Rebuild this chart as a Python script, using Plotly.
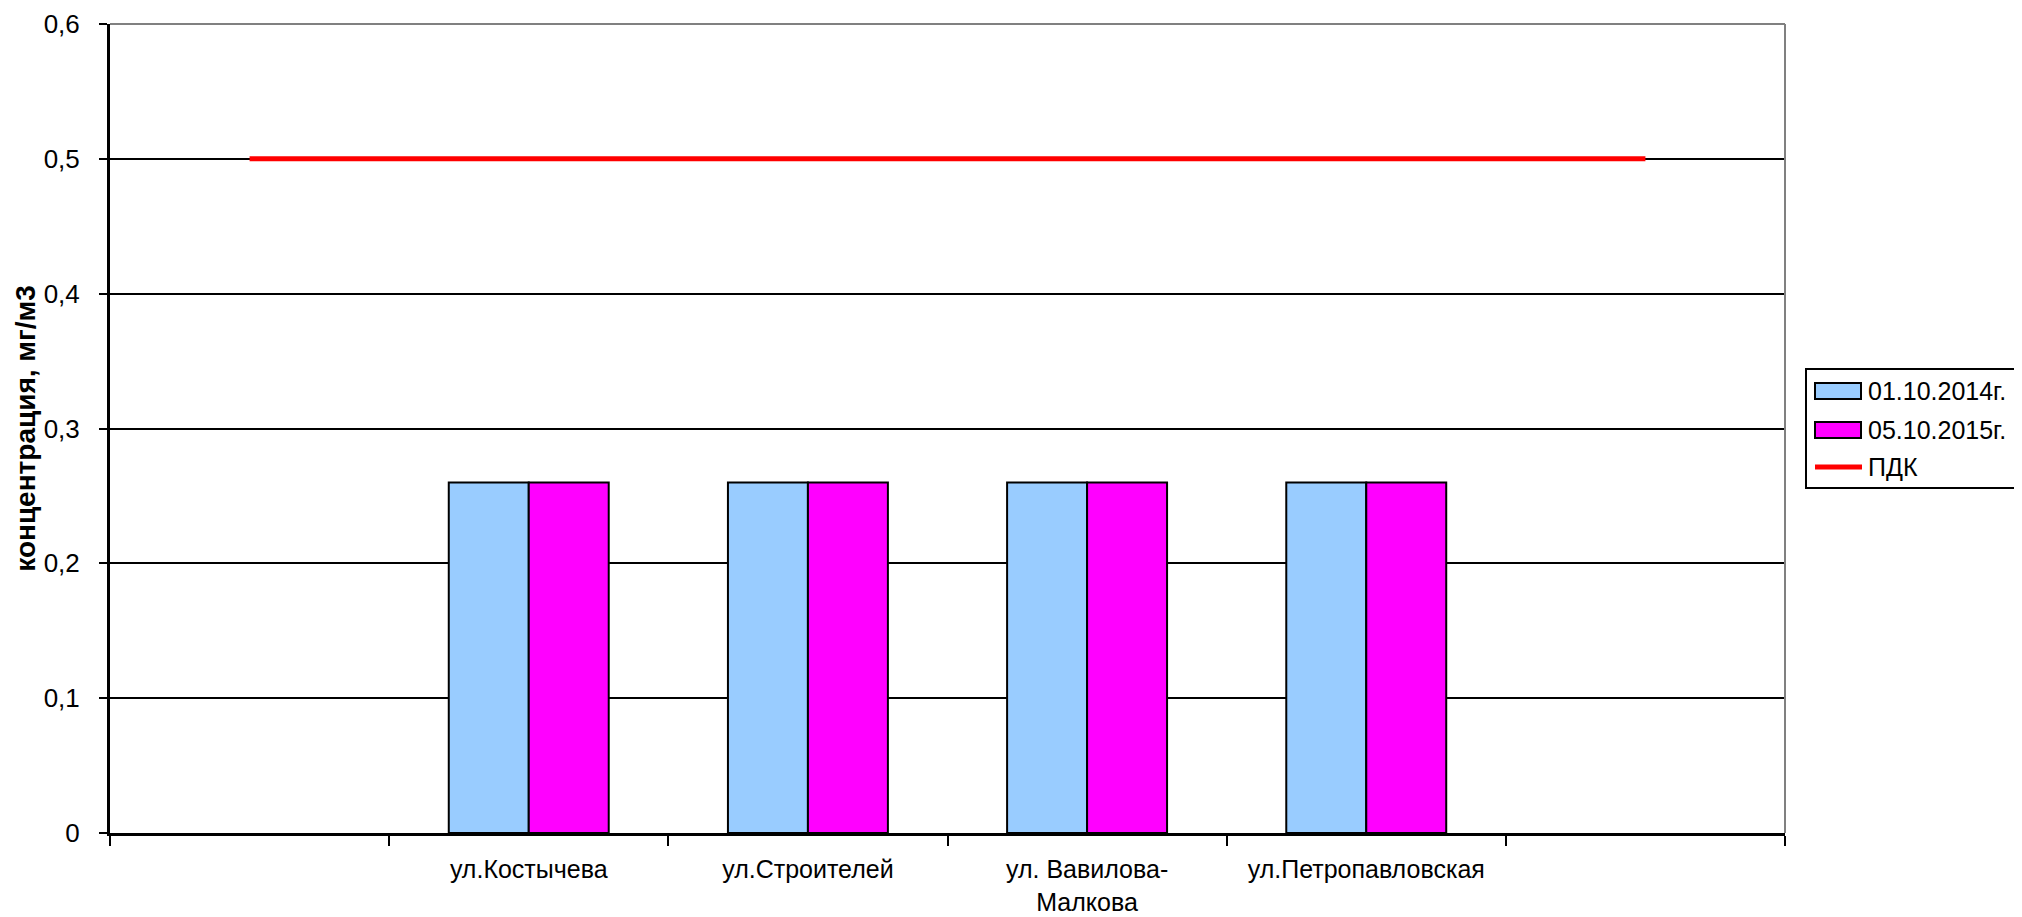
import plotly.graph_objects as go

# categories (blank slots at both ends, as in the original sheet)
categories = [" ", "ул.Костычева", "ул.Строителей", "ул. Вавилова-<br>Малкова",
              "ул.Петропавловская", "  "]
streets = categories[1:5]
conc_2014 = [0.26, 0.26, 0.26, 0.26]
conc_2015 = [0.26, 0.26, 0.26, 0.26]
pdk = [0.5, 0.5, 0.5, 0.5, 0.5, 0.5]

series_names = ["01.10.2014г.", "05.10.2015г.", "ПДК"]
colors = ["#99CCFF", "#FF00FF", "#FF0000"]

font_family = "Arial, Liberation Sans, sans-serif"

# page body has an 8px margin, so the figure is shifted by that much
OFF = 8
W, H = 2022 - OFF, 917 - OFF
L, T = 110 - OFF, 24 - OFF
plot_w, plot_h = 1675, 809
R, B = W - L - plot_w, H - T - plot_h


def px(x):
    # screen pixel -> paper coordinate
    return (x - OFF - L) / plot_w


def py(y):
    return (T + plot_h - (y - OFF)) / plot_h


fig = go.Figure()

fig.add_trace(go.Bar(
    x=streets, y=conc_2014, name=series_names[0],
    marker=dict(color=colors[0], line=dict(color="black", width=2)),
))
fig.add_trace(go.Bar(
    x=streets, y=conc_2015, name=series_names[1],
    marker=dict(color=colors[1], line=dict(color="black", width=2)),
))
fig.add_trace(go.Scatter(
    x=categories, y=pdk, name=series_names[2], mode="lines",
    line=dict(color=colors[2], width=5),
))

# grey plot-area border on top and right
fig.add_shape(type="line", xref="paper", yref="paper", x0=0, x1=1, y0=1, y1=1,
              line=dict(color="#808080", width=2), layer="above")
fig.add_shape(type="line", xref="paper", yref="paper", x0=1, x1=1, y0=0, y1=1,
              line=dict(color="#808080", width=2), layer="above")

# Excel-style legend: box, wide swatches, labels
fig.add_shape(type="rect", xref="paper", yref="paper",
              x0=px(1806), x1=px(2040), y0=py(369), y1=py(488),
              line=dict(color="black", width=2), fillcolor="white")
rows = [391, 430, 467]
for i, (name, col) in enumerate(zip(series_names, colors)):
    yc = rows[i]
    if i < 2:
        fig.add_shape(type="rect", xref="paper", yref="paper",
                      x0=px(1815), x1=px(1861), y0=py(yc - 8), y1=py(yc + 8),
                      line=dict(color="black", width=2), fillcolor=col)
    else:
        fig.add_shape(type="line", xref="paper", yref="paper",
                      x0=px(1815), x1=px(1862), y0=py(yc), y1=py(yc),
                      line=dict(color=col, width=5))
    fig.add_annotation(xref="paper", yref="paper", x=px(1866), y=py(yc),
                       xanchor="left", yanchor="middle", text=name,
                       showarrow=False, font=dict(size=25))

fig.update_layout(
    width=W, height=H,
    margin=dict(l=L, r=R, t=T, b=B),
    paper_bgcolor="white", plot_bgcolor="white",
    font=dict(family=font_family, size=25, color="black"),
    separators=", ",
    barmode="group", bargap=0.427, bargroupgap=0,
    showlegend=False,
    xaxis=dict(
        type="category", categoryorder="array", categoryarray=categories,
        range=[-0.5, 5.5], automargin=False,
        tickson="boundaries", ticks="outside", ticklen=10, tickwidth=2,
        tickcolor="black", ticklabelstandoff=12,
        showline=True, linecolor="black", linewidth=3,
        showgrid=False, tickfont=dict(size=25),
    ),
    yaxis=dict(
        range=[0, 0.6], dtick=0.1, tick0=0, automargin=False,
        ticks="outside", ticklen=8, tickwidth=2, tickcolor="black",
        ticklabelstandoff=14,
        showline=True, linecolor="black", linewidth=3,
        showgrid=True, gridcolor="black", gridwidth=2,
        zeroline=False,
        tickfont=dict(size=26),
        title=dict(text="<b>концентрация, мг/м3</b>", font=dict(size=28), standoff=0),
    ),
)

fig.write_html("out.html")
